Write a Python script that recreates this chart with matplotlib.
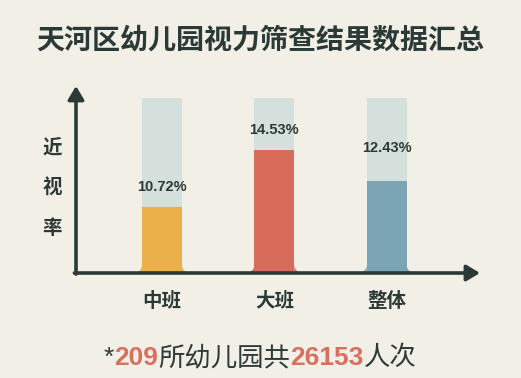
import matplotlib
matplotlib.use("Agg")
import matplotlib.pyplot as plt
import numpy as np

plt.rcParams['font.family'] = ['Liberation Sans', 'Noto Sans CJK SC', 'DejaVu Sans']

# data
groups = ['中班', '大班', '整体']
rates = [10.72, 14.53, 12.43]
full_scale = 18.0
schools = '209'
people = '26153'

bar_colors = ['#ebb04a', '#d86c5a', '#7ba5b4']
track_color = '#d5dfdc'
dark = '#2b3a36'
accent = '#d8705f'
bg = '#f2f0e6'

W, H = 521, 378
fig = plt.figure(figsize=(W / 100, H / 100), dpi=100, facecolor=bg)

# plotting area (axis lines run along left/bottom edges)
ax = fig.add_axes([76 / W, 105 / H, (480 - 76) / W, (273 - 86) / H])
ax.set_facecolor('none')
ymin = 6.3
ax.set_xlim(-0.764, 2.83)
ax.set_ylim(ymin, 18.8)
for s in ax.spines.values():
    s.set_visible(False)
ax.set_xticks([])
ax.set_yticks([])

x = np.arange(len(groups))
bw = 0.355
ax.bar(x, [full_scale] * len(x), width=bw, color=track_color, zorder=1)
ax.bar(x, rates, width=bw, color=bar_colors, zorder=2)

# little fillets at the base of each tube
rx, ry = 0.075, 0.55
th = np.linspace(0, np.pi / 2, 20)
for xi, c in zip(x, bar_colors):
    for side in (-1, 1):
        x0 = xi + side * bw / 2
        cx, cy = x0 + side * rx, ymin + ry
        px = np.concatenate([[x0], cx - side * rx * np.cos(th), [x0]])
        py = np.concatenate([[ymin], cy - ry * np.sin(th), [ymin]])
        ax.fill(px, py, color=c, lw=0, zorder=2, clip_on=False)

# value labels
offsets = [1.35, 1.35, 2.25]
for xi, v, off in zip(x, rates, offsets):
    ax.text(xi, v + off, f'{v:.2f}%', ha='center', va='center',
            fontsize=10.5, fontweight='bold', color=dark, zorder=3)

# arrows for axes
arrow = dict(arrowstyle='-|>,head_length=0.5,head_width=0.3', lw=2.6,
             color=dark, mutation_scale=16, shrinkA=0, shrinkB=0)
ax.annotate('', xy=(1.0, 0), xytext=(-0.004, 0), xycoords='axes fraction',
            arrowprops=arrow, annotation_clip=False)
ax.annotate('', xy=(0, 1.0), xytext=(0, -0.006), xycoords='axes fraction',
            arrowprops=arrow, annotation_clip=False)

# category labels
for xi, g in zip(x, groups):
    ax.text(xi, -0.15, g, transform=ax.get_xaxis_transform(), ha='center',
            va='center', fontsize=14, color=dark, fontweight='bold',
            family='Noto Sans CJK SC')

# vertical y label
for i, ch in enumerate('近视率'):
    fig.text(52 / W, 1 - (148 + 40 * i) / H, ch, ha='center', va='center',
             fontsize=14, color=dark, fontweight='bold',
             family='Noto Sans CJK SC')

# title
fig.text(0.5, 1 - 40 / H, '天河区幼儿园视力筛查结果数据汇总', ha='center',
         va='center', fontsize=20.2, fontweight='bold', color=dark,
         family='Noto Sans CJK SC')

# footnote with coloured numbers
pieces = [('*', dark, 'normal'), (schools, accent, 'bold'),
          ('所幼儿园共', dark, 'normal'), (people, accent, 'bold'),
          ('人次', dark, 'normal')]
renderer = fig.canvas.get_renderer()
texts = []
total = 0
for s, c, wt in pieces:
    t = fig.text(0, 1 - 358 / H, s, color=c, fontsize=19, va='center',
                 ha='left', family=['Liberation Sans', 'Noto Sans CJK SC'],
                 fontweight=wt)
    w = t.get_window_extent(renderer).width
    texts.append((t, w))
    total += w
xpos = (260 - total / 2)
for t, w in texts:
    t.set_x(xpos / W)
    xpos += w

fig.savefig('out.png', dpi=100, facecolor=bg)
